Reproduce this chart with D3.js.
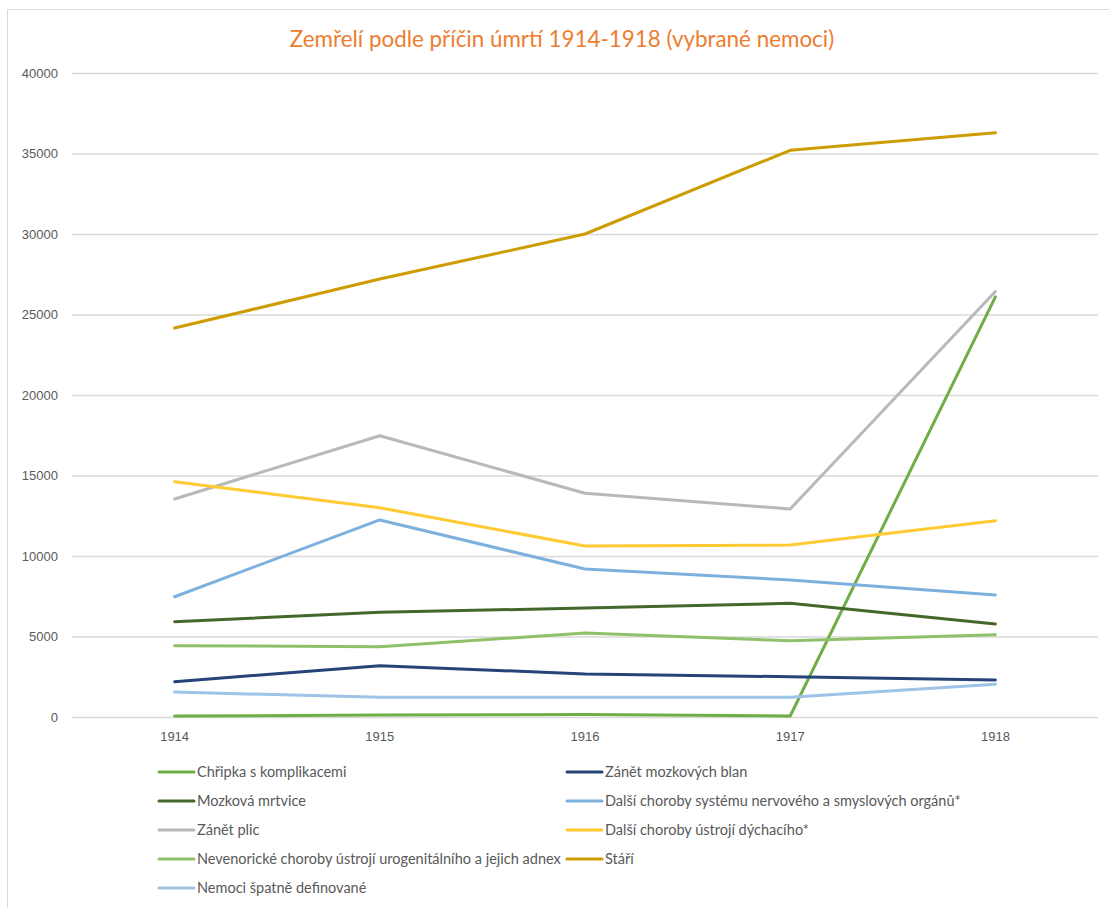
<!DOCTYPE html>
<html>
<head>
<meta charset="utf-8">
<script src="https://cdn.jsdelivr.net/npm/d3@7"></script>
<style>
  body { margin: 0; background: #fff; }
  svg { display: block; font-family: Lato, "Noto Sans", sans-serif; }
  .grid line { stroke: #d9d9d9; stroke-width: 1.3; }
  .tick text { fill: #595959; }
</style>
</head>
<body>
<svg id="chart" width="1109" height="908"></svg>
<script>

// data
var years = ['1914', '1915', '1916', '1917', '1918'];
var yTicks = [0, 5000, 10000, 15000, 20000, 25000, 30000, 35000, 40000];

var seriesNames = [
  'Chřipka s komplikacemi',
  'Zánět mozkových blan',
  'Mozková mrtvice',
  'Další choroby systému nervového a smyslových orgánů*',
  'Zánět plic',
  'Další choroby ústrojí dýchacího*',
  'Nevenorické choroby ústrojí urogenitálního a jejich adnex',
  'Stáří',
  'Nemoci špatně definované'
];

var chripka    = [60, 120, 150, 60, 26100];
var zanetBlan  = [2190, 3190, 2670, 2500, 2300];
var mrtvice    = [5920, 6500, 6770, 7060, 5780];
var nervove    = [7470, 12240, 9190, 8510, 7580];
var zanetPlic  = [13540, 17470, 13900, 12920, 26430];
var dychaci    = [14610, 13000, 10620, 10680, 12190];
var urogenital = [4430, 4370, 5210, 4740, 5110];
var stari      = [24160, 27200, 30000, 35200, 36290];
var spatne     = [1550, 1220, 1220, 1220, 2030];

var seriesValues = [chripka, zanetBlan, mrtvice, nervove, zanetPlic, dychaci, urogenital, stari, spatne];
var seriesColors = ['#70ad47', '#264478', '#43682b', '#7eb0de', '#b9b9b9', '#ffca32', '#8fc16a', '#cc9c00', '#9dc3e6'];

var vars = {
  width: 1109,
  height: 908,
  margin: {top: 73, right: 11, bottom: 191, left: 72}
};

var svg = d3.select('#chart');

// outer frame (left + top only are visible)
svg.append('path')
    .attr('d', 'M7.5,908 V9.5 H1109')
    .attr('fill', 'none')
    .attr('stroke', '#d9d9d9')
    .attr('stroke-width', 1);

svg.append('text')
    .attr('x', 562)
    .attr('y', 47)
    .attr('text-anchor', 'middle')
    .attr('fill', '#ed7d31')
    .style('font-size', '22.4px')
    .text('Zemřelí podle příčin úmrtí 1914-1918 (vybrané nemoci)');

var xScale = d3.scaleBand()
    .domain(years)
    .range([vars.margin.left, vars.width - vars.margin.right]);

var yScale = d3.scaleLinear()
    .domain([0, 40000])
    .range([vars.height - vars.margin.bottom, vars.margin.top]);

// gridlines + y labels
var yAxis = d3.axisLeft(yScale)
    .tickValues(yTicks)
    .tickSize(-(vars.width - vars.margin.left - vars.margin.right))
    .tickPadding(14)
    .tickFormat(d3.format('d'));

var gy = svg.append('g')
    .attr('class', 'grid')
    .attr('transform', 'translate(' + vars.margin.left + ',0)')
    .call(yAxis);
gy.select('.domain').remove();
gy.selectAll('text').style('font-size', '13px');

// x labels
var xAxis = d3.axisBottom(xScale).tickSize(0).tickPadding(15);
var gx = svg.append('g')
    .attr('transform', 'translate(0,' + (vars.height - vars.margin.bottom) + ')')
    .call(xAxis);
gx.select('.domain').remove();
gx.selectAll('text').style('font-size', '13px');

var line = d3.line()
    .x(function(d, i) { return xScale(years[i]) + xScale.bandwidth() / 2; })
    .y(function(d) { return yScale(d); });

svg.append('g').selectAll('path')
    .data(seriesValues)
  .enter().append('path')
    .attr('d', line)
    .attr('fill', 'none')
    .attr('stroke', function(d, i) { return seriesColors[i]; })
    .attr('stroke-width', 3)
    .attr('stroke-linecap', 'round')
    .attr('stroke-linejoin', 'round');

// legend, two columns, row-major
var legendX = [159, 567], legendY = 772, legendStep = 29;

var items = svg.append('g').selectAll('g')
    .data(seriesNames)
  .enter().append('g')
    .attr('transform', function(d, i) {
      return 'translate(' + legendX[i % 2] + ',' + (legendY + Math.floor(i / 2) * legendStep) + ')';
    });

items.append('line')
    .attr('x1', 0).attr('x2', 35)
    .attr('stroke', function(d, i) { return seriesColors[i]; })
    .attr('stroke-width', 3)
    .attr('stroke-linecap', 'round');

items.append('text')
    .attr('x', 38)
    .attr('dy', '0.35em')
    .attr('fill', '#595959')
    .style('font-size', '14.5px')
    .text(function(d) { return d; });

</script>
</body>
</html>
